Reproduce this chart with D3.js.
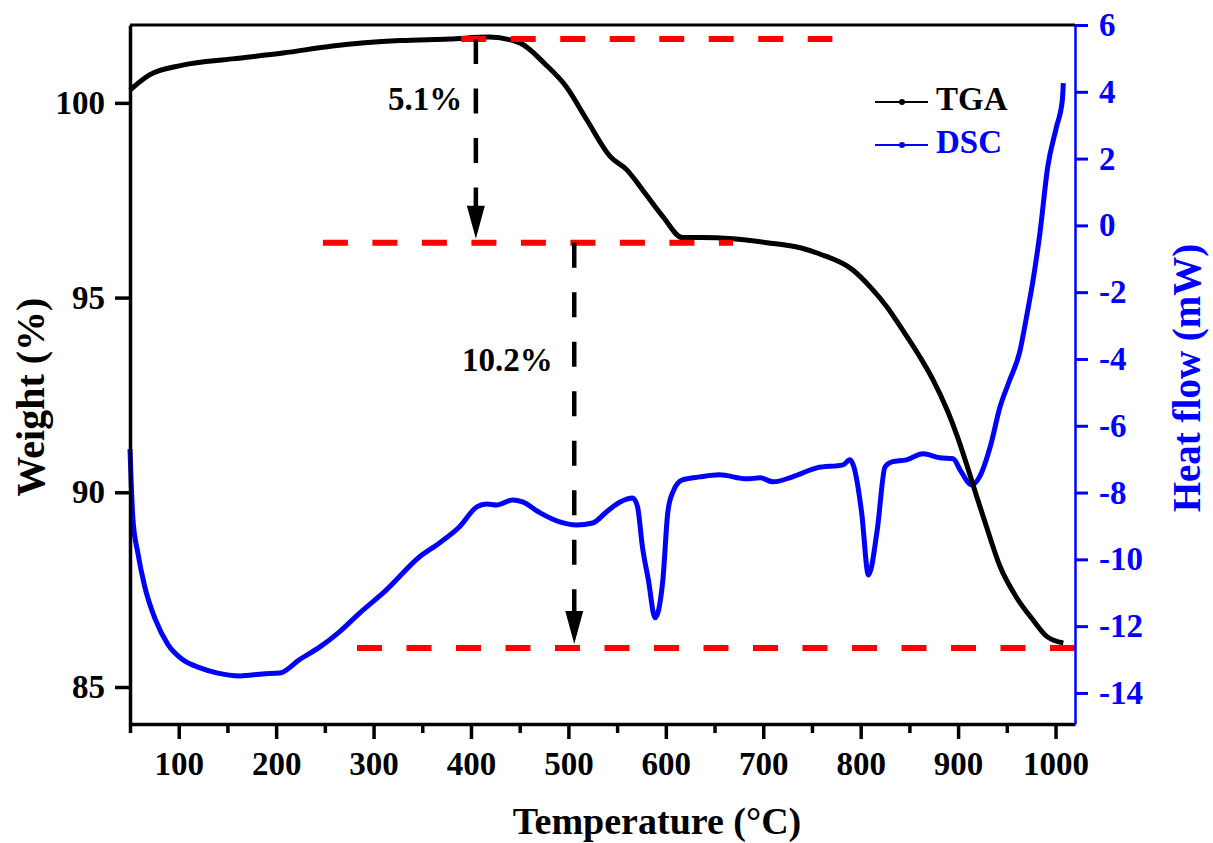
<!DOCTYPE html>
<html>
<head>
<meta charset="utf-8">
<script src="https://cdn.jsdelivr.net/npm/d3@7"></script>
<style>
  body { margin: 0; background: #fff; }
  svg text { font-family: "Liberation Serif", "Times New Roman", serif; font-weight: bold; }
</style>
</head>
<body>
<svg id="svg" width="1213" height="843"></svg>
<script>
// TGA (weight %)
var tgaTemp = [50, 70, 104, 155, 207, 258, 327, 378, 419, 450, 476, 498, 519, 543, 560, 576, 597, 617, 635, 669, 704, 738, 758, 792, 810, 827, 843, 861, 874, 889, 899, 909, 919, 930, 943, 960, 977, 991, 1008];
var tgaWeight = [100.33, 100.72, 100.97, 101.13, 101.28, 101.46, 101.6, 101.64, 101.69, 101.54, 101.0, 100.41, 99.56, 98.62, 98.28, 97.77, 97.08, 96.54, 96.54, 96.51, 96.41, 96.28, 96.12, 95.71, 95.27, 94.76, 94.17, 93.47, 92.9, 92.1, 91.45, 90.7, 89.9, 89.05, 88.1, 87.3, 86.72, 86.3, 86.13];

// DSC (heat flow mW)
var dscTemp = [50, 53, 58, 65, 76, 89, 104, 122, 139, 163, 186, 204, 224, 245, 265, 286, 313, 347, 368, 388, 406, 416, 426, 443, 453, 471, 491, 508, 525, 539, 553, 566, 571, 576, 582, 589, 597, 602, 607, 617, 635, 655, 683, 697, 710, 730, 755, 782, 789, 793, 801, 808, 817, 825, 832, 847, 864, 881, 895, 902, 914, 922, 933, 943, 953, 963, 971, 977, 984, 992, 1001, 1007, 1008];
var dscHeat = [-6.7, -8.8, -9.8, -10.8, -11.8, -12.55, -13.0, -13.25, -13.4, -13.49, -13.43, -13.4, -13.0, -12.62, -12.17, -11.6, -10.92, -9.93, -9.5, -9.03, -8.43, -8.34, -8.37, -8.22, -8.28, -8.61, -8.88, -8.97, -8.91, -8.58, -8.28, -8.16, -8.43, -9.63, -10.6, -11.75, -10.6, -8.6, -8.0, -7.62, -7.53, -7.47, -7.59, -7.56, -7.68, -7.53, -7.26, -7.17, -7.02, -7.23, -8.6, -10.47, -9.12, -7.23, -7.08, -7.02, -6.84, -6.96, -6.99, -7.32, -7.77, -7.53, -6.63, -5.44, -4.63, -3.82, -2.62, -1.63, -0.23, 1.75, 2.95, 3.75, 4.26];

var xTicks = [100, 200, 300, 400, 500, 600, 700, 800, 900, 1000];
var xMinorTicks = [50, 150, 250, 350, 450, 550, 650, 750, 850, 950];
var leftTicks = [85, 90, 95, 100];
var rightTicks = [-14, -12, -10, -8, -6, -4, -2, 0, 2, 4, 6];

// red dashed levels: weight, from temp, to temp
var levelWeight = [101.64, 96.41, 86.0];
var levelFrom = [390, 248, 283];
var levelTo = [771, 669, 1020];

// loss arrows
var arrowTemp = [405, 506];
var arrowFrom = [101.64, 96.41];
var arrowTo = [96.41, 86.0];
var arrowLabel = ['5.1%', '10.2%'];
var labelTemp = [391, 484];
var labelWeight = [99.82, 93.11];

var legendNames = ['TGA', 'DSC'];
var legendColors = ['#000', '#0000ff'];

var svg = d3.select('#svg');
var padding = {top: 25, right: 138, bottom: 119, left: 130};
var W = +svg.attr('width'), H = +svg.attr('height');
var chartArea = {width: W - padding.left - padding.right, height: H - padding.top - padding.bottom};

var xScale = d3.scaleLinear().domain([50, 1020]).range([padding.left, padding.left + chartArea.width]);
var yLeft = d3.scaleLinear().domain([84.05, 102.0]).range([padding.top + chartArea.height, padding.top]);
var yRight = d3.scaleLinear().domain([-14.93, 6]).range([padding.top + chartArea.height, padding.top]);

var tgaData = tgaTemp.map(function(t, i){ return {t: t, v: tgaWeight[i]}; });
var dscData = dscTemp.map(function(t, i){ return {t: t, v: dscHeat[i]}; });

svg.append('path')
    .datum(dscData)
    .attr('fill', 'none')
    .attr('stroke', '#0000ff')
    .attr('stroke-width', 5)
    .attr('stroke-linejoin', 'round')
    .attr('d', d3.line().curve(d3.curveMonotoneX)
        .x(function(d){ return xScale(d.t); })
        .y(function(d){ return yRight(d.v); }));

svg.append('path')
    .datum(tgaData)
    .attr('fill', 'none')
    .attr('stroke', '#000')
    .attr('stroke-width', 5)
    .attr('stroke-linejoin', 'round')
    .attr('d', d3.line().curve(d3.curveMonotoneX)
        .x(function(d){ return xScale(d.t); })
        .y(function(d){ return yLeft(d.v); }));

// red levels
svg.selectAll('.level').data(levelWeight).enter()
    .append('line')
    .attr('class', 'level')
    .attr('x1', function(d, i){ return xScale(levelFrom[i]); })
    .attr('x2', function(d, i){ return xScale(levelTo[i]); })
    .attr('y1', function(d){ return yLeft(d); })
    .attr('y2', function(d){ return yLeft(d); })
    .attr('stroke', '#ff0000')
    .attr('stroke-width', 6)
    .attr('stroke-dasharray', '25,24.5');

// arrows
var headH = 33, headW = 9;
svg.selectAll('.arrow').data(arrowTemp).enter()
    .append('line')
    .attr('class', 'arrow')
    .attr('x1', function(d){ return xScale(d); })
    .attr('x2', function(d){ return xScale(d); })
    .attr('y1', function(d, i){ return yLeft(arrowFrom[i]); })
    .attr('y2', function(d, i){ return yLeft(arrowTo[i]) - 4 - headH + 2; })
    .attr('stroke', '#000')
    .attr('stroke-width', 4.5)
    .attr('stroke-dasharray', '25,24.5');

svg.selectAll('.arrowhead').data(arrowTemp).enter()
    .append('path')
    .attr('class', 'arrowhead')
    .attr('d', function(d, i){
        var x = xScale(d), y = yLeft(arrowTo[i]) - 4;
        return 'M' + (x - headW) + ',' + (y - headH) + 'L' + (x + headW) + ',' + (y - headH) +
            'L' + x + ',' + y + 'Z';
    })
    .attr('fill', '#000');

svg.selectAll('.arrowlabel').data(arrowLabel).enter()
    .append('text')
    .attr('x', function(d, i){ return xScale(labelTemp[i]); })
    .attr('y', function(d, i){ return yLeft(labelWeight[i]); })
    .attr('text-anchor', 'end')
    .attr('font-size', 33)
    .attr('fill', '#000')
    .text(function(d){ return d; });

// frame
svg.append('line')
    .attr('x1', padding.left).attr('x2', padding.left + chartArea.width)
    .attr('y1', padding.top).attr('y2', padding.top)
    .attr('stroke', '#000').attr('stroke-width', 3);

var xAxis = svg.append('g')
    .attr('transform', 'translate(0,' + (padding.top + chartArea.height) + ')')
    .call(d3.axisBottom(xScale).tickValues(xTicks).tickSize(15).tickSizeOuter(0).tickPadding(13)
        .tickFormat(d3.format('d')));
var xMinor = svg.append('g')
    .attr('transform', 'translate(0,' + (padding.top + chartArea.height) + ')')
    .call(d3.axisBottom(xScale).tickValues(xMinorTicks).tickSize(9).tickSizeOuter(0).tickFormat(''));
xMinor.select('.domain').remove();
xMinor.selectAll('.tick line').attr('stroke', '#000').attr('stroke-width', 3.5);

var yAxisL = svg.append('g')
    .attr('transform', 'translate(' + padding.left + ',0)')
    .call(d3.axisLeft(yLeft).tickValues(leftTicks).tickSize(15).tickSizeOuter(0).tickPadding(10));

var yAxisR = svg.append('g')
    .attr('transform', 'translate(' + (padding.left + chartArea.width) + ',0)')
    .call(d3.axisRight(yRight).tickValues(rightTicks).tickSize(13).tickSizeOuter(0).tickPadding(11)
        .tickFormat(function(d){ return String(d); }));

[xAxis, yAxisL].forEach(function(g){
    g.select('.domain').attr('stroke', '#000').attr('stroke-width', 3.5);
    g.selectAll('.tick line').attr('stroke', '#000').attr('stroke-width', 3.5);
    g.selectAll('.tick text').attr('font-size', 33).attr('fill', '#000')
        .style('font-family', '"Liberation Serif", serif').style('font-weight', 'bold');
});
yAxisR.select('.domain').attr('stroke', '#0000ff').attr('stroke-width', 2.5);
yAxisR.selectAll('.tick line').attr('stroke', '#0000ff').attr('stroke-width', 3);
yAxisR.selectAll('.tick text').attr('font-size', 33).attr('fill', '#0000ff')
    .style('font-family', '"Liberation Serif", serif').style('font-weight', 'bold');

// axis titles
svg.append('text')
    .attr('x', 657).attr('y', 834)
    .attr('text-anchor', 'middle')
    .attr('font-size', 38)
    .attr('fill', '#000')
    .text('Temperature (°C)');
svg.append('text')
    .attr('transform', 'translate(44,397) rotate(-90)')
    .attr('text-anchor', 'middle')
    .attr('font-size', 40)
    .attr('fill', '#000')
    .text('Weight (%)');
svg.append('text')
    .attr('transform', 'translate(1200,378) rotate(-90)')
    .attr('text-anchor', 'middle')
    .attr('font-size', 39)
    .attr('fill', '#0000ff')
    .text('Heat flow (mW)');

// legend
var legend = svg.append('g').attr('transform', 'translate(875,102)');
var items = legend.selectAll('g').data(legendNames).enter()
    .append('g')
    .attr('transform', function(d, i){ return 'translate(0,' + (i * 43) + ')'; });
items.append('line')
    .attr('x1', 0).attr('x2', 53)
    .attr('stroke', function(d, i){ return legendColors[i]; })
    .attr('stroke-width', 2);
items.append('circle')
    .attr('cx', 27).attr('r', 3)
    .attr('fill', function(d, i){ return legendColors[i]; });
items.append('text')
    .attr('x', 61).attr('y', 8)
    .attr('font-size', 33)
    .attr('fill', function(d, i){ return legendColors[i]; })
    .text(function(d){ return d; });
</script>
</body>
</html>
